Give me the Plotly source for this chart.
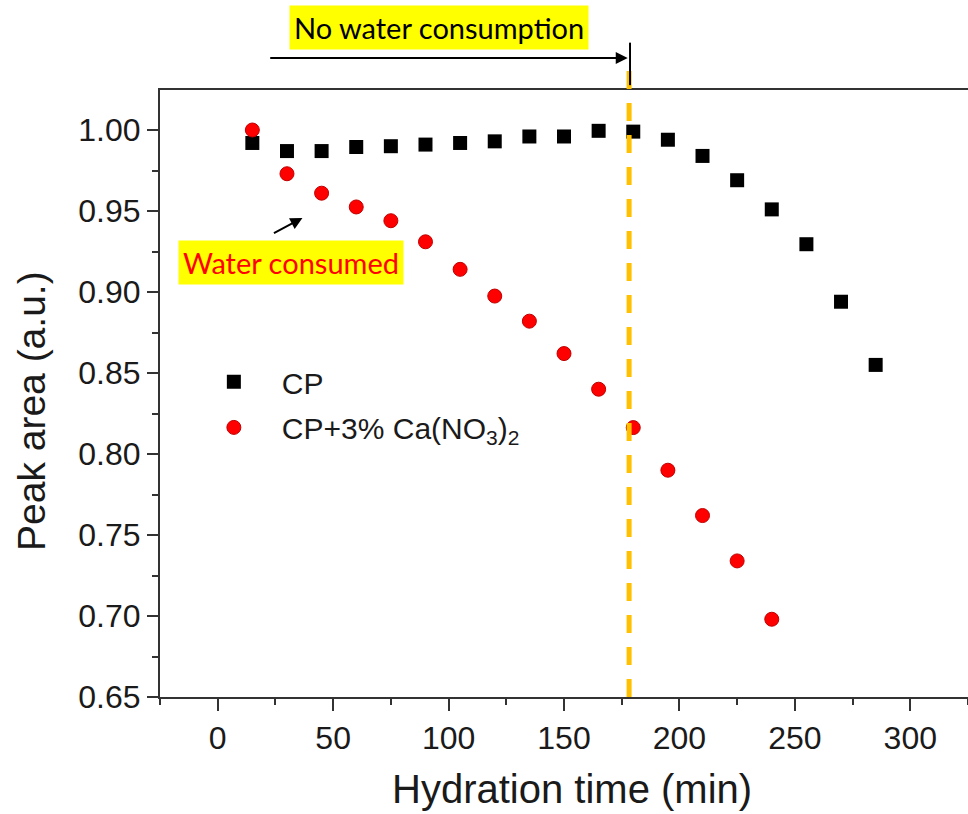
import plotly.graph_objects as go

# Hydration time (min) and normalised peak areas
time_cp = [15, 30, 45, 60, 75, 90, 105, 120, 135, 150, 165, 180, 195, 210, 225, 240, 255, 270, 285]
area_cp = [0.992, 0.987, 0.987, 0.9895, 0.990, 0.991, 0.992, 0.993, 0.996, 0.996, 0.9995,
           0.999, 0.994, 0.984, 0.969, 0.951, 0.9295, 0.894, 0.855]

time_ca = [15, 30, 45, 60, 75, 90, 105, 120, 135, 150, 165, 180, 195, 210, 225, 240]
area_ca = [1.000, 0.973, 0.961, 0.9525, 0.944, 0.931, 0.914, 0.8975, 0.882, 0.862, 0.840,
           0.8163, 0.790, 0.762, 0.734, 0.698]

onset_time = 178.2  # end of the no-consumption period

FONT = "Arial, Liberation Sans, sans-serif"
NOTE_FONT = "Lato, Open Sans, sans-serif"
AX = "#333333"
TXT = "#1a1a1a"

fig = go.Figure()
fig.add_trace(go.Scatter(
    x=time_cp, y=area_cp, mode="markers", name="CP", legend="legend", showlegend=True,
    marker=dict(symbol="square", size=14, color="black"),
))
fig.add_trace(go.Scatter(
    x=time_ca, y=area_ca, mode="markers", name="CP+3% Ca(NO<sub>3</sub>)<sub>2</sub>",
    legend="legend2", showlegend=True,
    marker=dict(symbol="circle", size=14, color="#ff0000", line=dict(color="#c00000", width=1)),
))

# dashed onset line, running a little above the frame
fig.add_shape(type="line", xref="x", yref="paper", x0=onset_time, x1=onset_time,
              y0=0, y1=1.033, line=dict(color="#FFC000", width=5, dash="18px,14px"))
# black marker line at the arrow tip
fig.add_shape(type="line", xref="x", yref="paper", x0=178.6, x1=178.6,
              y0=1.008, y1=1.078, line=dict(color="black", width=2))

# arrow spanning the no-consumption period
fig.add_annotation(x=177.6, y=1.0527, xref="x", yref="paper", text="", showarrow=True,
                   ax=-359, ay=0, arrowhead=2, arrowsize=1.2, arrowwidth=2, arrowcolor="black")
fig.add_annotation(x=0.3453, y=1.103, xref="paper", yref="paper", text="No water consumption",
                   showarrow=False, font=dict(family=NOTE_FONT, size=29, color="black"),
                   bgcolor="#FFFF00", borderpad=4, xanchor="center", yanchor="middle")

fig.add_annotation(x=36.7, y=0.9457, xref="x", yref="y", text="", showarrow=True,
                   ax=-30, ay=16, arrowhead=2, arrowsize=1.2, arrowwidth=2, arrowcolor="black")
fig.add_annotation(x=0.1627, y=0.7158, xref="paper", yref="paper", text="Water consumed",
                   showarrow=False, font=dict(family=NOTE_FONT, size=29, color="#ff0000"),
                   bgcolor="#FFFF00", borderpad=4, xanchor="center", yanchor="middle")

# axis titles
fig.add_annotation(x=0.51, y=-0.1516, xref="paper", yref="paper", text="Hydration time (min)",
                   showarrow=False, font=dict(family=FONT, size=40, color=TXT),
                   xanchor="center", yanchor="middle")
fig.add_annotation(x=-0.1584, y=0.4712, xref="paper", yref="paper", text="Peak area (a.u.)",
                   showarrow=False, textangle=-90, font=dict(family=FONT, size=39, color=TXT),
                   xanchor="center", yanchor="middle")

fig.update_layout(
    width=968, height=814,
    margin=dict(l=160, r=0, t=90, b=117),
    paper_bgcolor="white", plot_bgcolor="white",
    font=dict(family=FONT, color=TXT),
    showlegend=True,
    legend=dict(x=0.032, y=0.562, xanchor="left", yanchor="top", bgcolor="rgba(0,0,0,0)",
                font=dict(family=FONT, size=30, color=TXT), itemwidth=86),
    legend2=dict(x=0.032, y=0.487, xanchor="left", yanchor="top", bgcolor="rgba(0,0,0,0)",
                 font=dict(family=FONT, size=30, color=TXT), itemwidth=86),
    xaxis=dict(
        range=[-25, 325], tick0=0, dtick=50, showgrid=False, zeroline=False,
        showline=True, linecolor=AX, linewidth=2, mirror=True,
        ticks="outside", ticklen=12, tickwidth=2, tickcolor=AX,
        minor=dict(ticks="outside", ticklen=6, tickwidth=2, tickcolor=AX, dtick=25, tick0=0),
        tickfont=dict(family=FONT, size=32, color=TXT),
    ),
    yaxis=dict(
        range=[0.65, 1.0247], tick0=0.65, dtick=0.05, tickformat=".2f", showgrid=False,
        zeroline=False, showline=True, linecolor=AX, linewidth=2, mirror=False,
        ticks="outside", ticklen=11, tickwidth=2, tickcolor=AX,
        minor=dict(ticks="outside", ticklen=6, tickwidth=2, tickcolor=AX, dtick=0.025, tick0=0.65),
        tickfont=dict(family=FONT, size=32, color=TXT),
    ),
)

fig.write_html("out.html")
